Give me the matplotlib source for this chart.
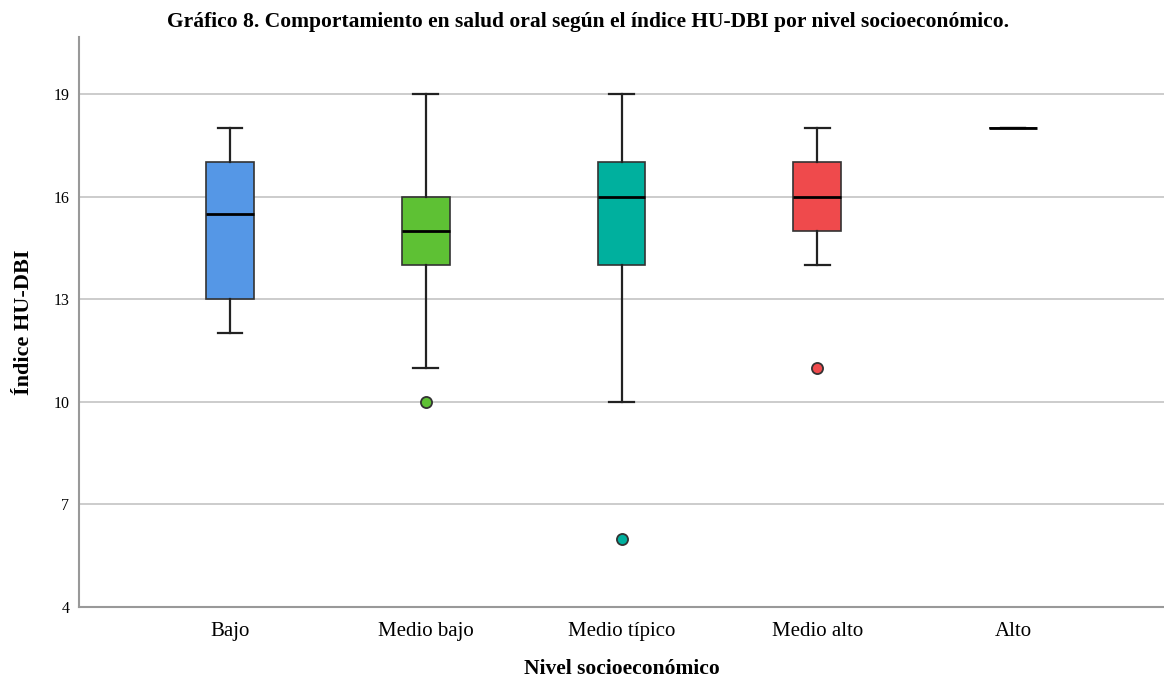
import matplotlib.pyplot as plt

# Boxplot summary
categories = ['Bajo', 'Medio bajo', 'Medio típico', 'Medio alto', 'Alto']
whislo = [12, 11, 10, 14, 18]
q1 = [13, 14, 14, 15, 18]
med = [15.5, 15, 16, 16, 18]
q3 = [17, 16, 17, 17, 18]
whishi = [18, 19, 19, 18, 18]
outliers = [[], [10], [6], [11], []]
colors = ['#5597e6', '#5ec134', '#00b09e', '#ef4a4c', '#999999']
yticks = [4, 7, 10, 13, 16, 19]

plt.rcParams['font.family'] = ['Liberation Serif', 'DejaVu Serif']

fig = plt.figure(figsize=(11.64, 6.81), dpi=100)
ax = fig.add_axes([79 / 1164, 1 - 607 / 681, 1 - 79 / 1164, (607 - 37) / 681])

stats = []
for i, name in enumerate(categories):
    stats.append({'label': name, 'whislo': whislo[i], 'q1': q1[i], 'med': med[i],
                  'q3': q3[i], 'whishi': whishi[i], 'fliers': outliers[i]})

bp = ax.bxp(stats, positions=range(len(categories)), widths=0.245, patch_artist=True,
            showfliers=True,
            boxprops=dict(edgecolor='#333333', linewidth=1.2),
            medianprops=dict(color='black', linewidth=2),
            whiskerprops=dict(color='#222222', linewidth=1.6),
            capprops=dict(color='#222222', linewidth=1.6),
            capwidths=0.125,
            flierprops=dict(marker='o', markersize=8, markeredgecolor='#333333',
                            markeredgewidth=1.3))

for patch, c in zip(bp['boxes'], colors):
    patch.set_facecolor(c)
for fl, c in zip(bp['fliers'], colors):
    fl.set_markerfacecolor(c)

ax.set_xlim(-0.77, 4.77)
ax.set_ylim(4, 20.67)
ax.set_yticks(yticks)
ax.set_yticklabels([str(t) for t in yticks], fontsize=11.5)
ax.set_xticks(range(len(categories)))
ax.set_xticklabels(categories, fontsize=15)
ax.tick_params(axis='x', length=0, pad=11)
ax.tick_params(axis='y', length=0, pad=7)

ax.yaxis.grid(True, color='#c8c8c8', linewidth=1.3)
ax.set_axisbelow(True)
for s in ['top', 'right']:
    ax.spines[s].set_visible(False)
for s in ['left', 'bottom']:
    ax.spines[s].set_color('#999999')
    ax.spines[s].set_linewidth(1.5)

ax.set_xlabel('Nivel socioeconómico', fontsize=15.5, fontweight='bold', labelpad=13)
ax.set_ylabel('Índice HU-DBI', fontsize=16, fontweight='bold', labelpad=14)
fig.text(0.505, 0.967, 'Gráfico 8. Comportamiento en salud oral según el índice HU-DBI por nivel socioeconómico.',
         ha='center', va='center', fontsize=15.5, fontweight='bold')

fig.savefig('out.png', dpi=100)
